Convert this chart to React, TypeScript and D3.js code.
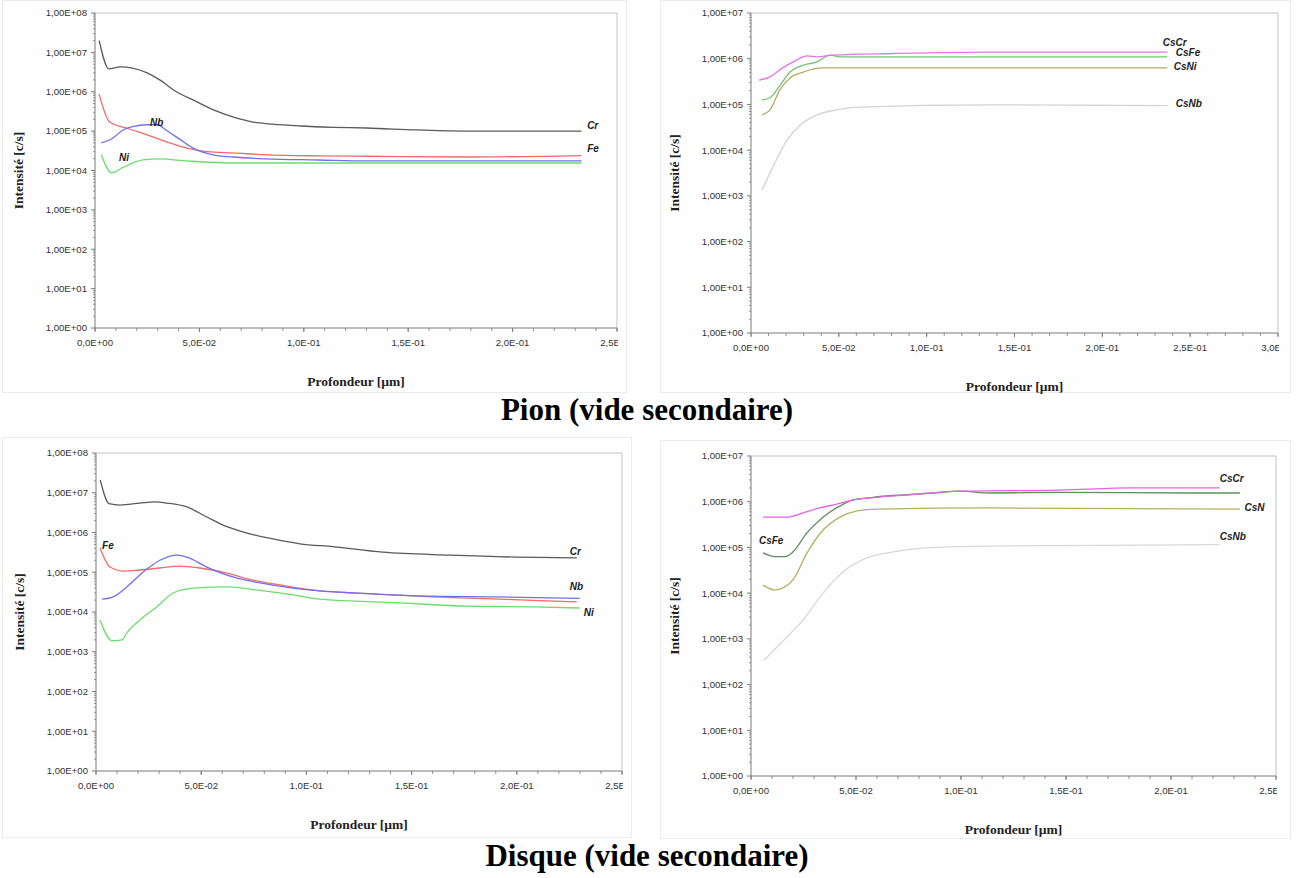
import React from 'react';
import * as d3 from 'd3';

// ---------- DATA ----------
// Top-left: Pion, éléments
const tlCrX = [0.002, 0.0067, 0.012, 0.018, 0.025, 0.031, 0.039, 0.047, 0.0565, 0.066, 0.0757, 0.085, 0.098, 0.114, 0.13, 0.154, 0.178, 0.202, 0.233];
const tlCrY = [2.0e7, 3.8e6, 4.3e6, 4.0e6, 3.0e6, 2.0e6, 1.0e6, 6.2e5, 3.5e5, 2.3e5, 1.7e5, 1.5e5, 1.35e5, 1.25e5, 1.2e5, 1.07e5, 1.0e5, 1.0e5, 1.0e5];
const tlFeX = [0.002, 0.007, 0.015, 0.025, 0.034, 0.044, 0.054, 0.066, 0.082, 0.107, 0.13, 0.178, 0.233];
const tlFeY = [8.7e5, 1.7e5, 1.2e5, 8e4, 5.4e4, 3.7e4, 3.0e4, 2.8e4, 2.5e4, 2.35e4, 2.3e4, 2.2e4, 2.4e4];
const tlNbX = [0.003, 0.0086, 0.0134, 0.018, 0.025, 0.03, 0.034, 0.041, 0.047, 0.0565, 0.066, 0.082, 0.107, 0.13, 0.233];
const tlNbY = [5e4, 6.7e4, 1.07e5, 1.3e5, 1.45e5, 1.45e5, 1.07e5, 6e4, 3.7e4, 2.5e4, 2.2e4, 1.97e4, 1.85e4, 1.75e4, 1.75e4];
const tlNiX = [0.003, 0.008, 0.0134, 0.023, 0.031, 0.044, 0.066, 0.107, 0.233];
const tlNiY = [2.5e4, 8.7e3, 1.2e4, 1.85e4, 1.97e4, 1.75e4, 1.55e4, 1.55e4, 1.55e4];

// Top-right: Pion, Cs clusters
const trCsCrX = [0.0046, 0.0108, 0.018, 0.024, 0.032, 0.0376, 0.0467, 0.081, 0.136, 0.237];
const trCsCrY = [3.4e5, 4e5, 6.3e5, 8.5e5, 1.15e6, 1.1e6, 1.2e6, 1.3e6, 1.4e6, 1.4e6];
const trCsFeX = [0.0063, 0.0108, 0.0165, 0.0222, 0.0296, 0.0376, 0.045, 0.0506, 0.136, 0.237];
const trCsFeY = [1.25e5, 1.4e5, 2.6e5, 5.1e5, 7.2e5, 8.5e5, 1.2e6, 1.1e6, 1.1e6, 1.1e6];
const trCsNiX = [0.0063, 0.0108, 0.0165, 0.0222, 0.0296, 0.041, 0.0506, 0.136, 0.237];
const trCsNiY = [5.9e4, 7.6e4, 2.1e5, 3.8e5, 5.1e5, 6.3e5, 6.3e5, 6.3e5, 6.3e5];
const trCsNbX = [0.0063, 0.0125, 0.0205, 0.0279, 0.0376, 0.049, 0.062, 0.136, 0.237];
const trCsNbY = [1.35e3, 4.3e3, 1.66e4, 3.5e4, 5.9e4, 7.6e4, 8.7e4, 9.8e4, 9.4e4];

// Bottom-left: Disque, éléments
const blCrX = [0.002, 0.0062, 0.0114, 0.0209, 0.028, 0.0337, 0.0432, 0.0527, 0.0622, 0.0717, 0.0841, 0.0969, 0.1126, 0.1363, 0.1682, 0.2, 0.2285];
const blCrY = [2.1e7, 5.3e6, 4.9e6, 5.5e6, 5.9e6, 5.5e6, 4.4e6, 2.45e6, 1.4e6, 9.7e5, 6.9e5, 5.2e5, 4.4e5, 3.2e5, 2.7e5, 2.4e5, 2.3e5];
const blFeX = [0.0019, 0.0067, 0.0128, 0.0209, 0.0304, 0.0399, 0.0494, 0.0622, 0.0746, 0.0874, 0.1064, 0.124, 0.16, 0.192, 0.2285];
const blFeY = [4.1e5, 1.35e5, 1.07e5, 1.14e5, 1.28e5, 1.43e5, 1.28e5, 9.5e4, 6.3e4, 4.8e4, 3.4e4, 3e4, 2.4e4, 2.1e4, 1.8e4];
const blNbX = [0.0029, 0.0081, 0.0147, 0.0223, 0.0304, 0.0385, 0.0432, 0.0527, 0.0651, 0.0779, 0.0936, 0.1064, 0.124, 0.16, 0.192, 0.2299];
const blNbY = [2.1e4, 2.4e4, 4.3e4, 1e5, 2.0e5, 2.7e5, 2.4e5, 1.35e5, 7.6e4, 5.4e4, 4e4, 3.4e4, 3e4, 2.5e4, 2.4e4, 2.2e4];
const blNiX = [0.0019, 0.0076, 0.0124, 0.0147, 0.0209, 0.029, 0.0366, 0.0461, 0.0622, 0.0779, 0.0936, 0.1064, 0.1126, 0.1444, 0.1762, 0.2076, 0.2299];
const blNiY = [6.3e3, 1.9e3, 2.0e3, 3e3, 6.3e3, 1.35e4, 3e4, 4e4, 4.3e4, 3.5e4, 2.7e4, 2.1e4, 2e4, 1.7e4, 1.4e4, 1.35e4, 1.26e4];

// Bottom-right: Disque, Cs clusters
const brCsCrX = [0.0057, 0.0171, 0.0248, 0.0328, 0.0409, 0.0486, 0.06, 0.0743, 0.0995, 0.147, 0.182, 0.2232];
const brCsCrY = [4.6e5, 4.6e5, 5.7e5, 7.3e5, 8.9e5, 1.1e6, 1.25e6, 1.4e6, 1.7e6, 1.8e6, 2e6, 2e6];
const brCsFeX = [0.0057, 0.0114, 0.0162, 0.02, 0.0267, 0.0343, 0.0424, 0.0486, 0.0581, 0.0709, 0.0866, 0.0995, 0.1138, 0.147, 0.2104, 0.2328];
const brCsFeY = [7.6e4, 6.3e4, 6.3e4, 8e4, 2.1e5, 4.6e5, 8.1e5, 1.1e6, 1.25e6, 1.4e6, 1.55e6, 1.7e6, 1.55e6, 1.6e6, 1.55e6, 1.55e6];
const brCsNiX = [0.0057, 0.0114, 0.0152, 0.02, 0.0267, 0.0343, 0.0424, 0.0505, 0.06, 0.1138, 0.2328];
const brCsNiY = [1.5e4, 1.17e4, 1.3e4, 1.95e4, 7.6e4, 2.4e5, 4.6e5, 6.3e5, 6.9e5, 7.3e5, 6.9e5];
const brCsNbX = [0.0062, 0.0171, 0.0248, 0.0343, 0.0438, 0.0552, 0.0676, 0.0838, 0.1138, 0.147, 0.2232];
const brCsNbY = [3.4e2, 1.1e3, 2.6e3, 1e4, 2.9e4, 5.9e4, 8e4, 9.8e4, 1.07e5, 1.1e5, 1.15e5];

const titles = ['Pion (vide secondaire)', 'Disque (vide secondaire)'];
const yAxisTitle = 'Intensité [c/s]';
const xAxisTitle = 'Profondeur [µm]';

// ---------- LAYOUT ----------
type Series = { x: number[]; y: number[]; color: string };
type Lbl = { text: string; x: number; y: number };
type PanelCfg = {
  left: number; right: number; top: number; bottom: number;
  xMax: number; yMax: number;
  frame: [number, number, number, number];
  series: Series[]; labels: Lbl[];
};

const panels: PanelCfg[] = [
  {
    left: 95, right: 617, top: 13, bottom: 328, xMax: 0.25, yMax: 1e8,
    frame: [2, 0, 626, 392],
    series: [
      { x: tlCrX, y: tlCrY, color: '#5a5a5a' },
      { x: tlFeX, y: tlFeY, color: '#f06a6a' },
      { x: tlNbX, y: tlNbY, color: '#7070ee' },
      { x: tlNiX, y: tlNiY, color: '#6ade6a' },
    ],
    labels: [
      { text: 'Cr', x: 0.2357, y: 1.35e5 },
      { text: 'Fe', x: 0.2357, y: 3.7e4 },
      { text: 'Nb', x: 0.0263, y: 1.7e5 },
      { text: 'Ni', x: 0.0115, y: 2.2e4 },
    ],
  },
  {
    left: 751, right: 1278, top: 13, bottom: 333, xMax: 0.3, yMax: 1e7,
    frame: [660, 0, 1290, 392],
    series: [
      { x: trCsNbX, y: trCsNbY, color: '#d4d4d4' },
      { x: trCsNiX, y: trCsNiY, color: '#b4aa66' },
      { x: trCsFeX, y: trCsFeY, color: '#74c274' },
      { x: trCsCrX, y: trCsCrY, color: '#e874e8' },
    ],
    labels: [
      { text: 'CsCr', x: 0.2344, y: 2.3e6 },
      { text: 'CsFe', x: 0.2418, y: 1.4e6 },
      { text: 'CsNi', x: 0.2407, y: 6.9e5 },
      { text: 'CsNb', x: 0.2418, y: 1.07e5 },
    ],
  },
  {
    left: 96, right: 622, top: 453, bottom: 771, xMax: 0.25, yMax: 1e8,
    frame: [2, 437, 631, 837],
    series: [
      { x: blCrX, y: blCrY, color: '#5a5a5a' },
      { x: blNiX, y: blNiY, color: '#6ade6a' },
      { x: blFeX, y: blFeY, color: '#f06a6a' },
      { x: blNbX, y: blNbY, color: '#7070ee' },
    ],
    labels: [
      { text: 'Fe', x: 0.0029, y: 4.6e5 },
      { text: 'Cr', x: 0.2252, y: 3.4e5 },
      { text: 'Nb', x: 0.2252, y: 4.3e4 },
      { text: 'Ni', x: 0.2318, y: 1.0e4 },
    ],
  },
  {
    left: 751, right: 1276, top: 456, bottom: 776, xMax: 0.25, yMax: 1e7,
    frame: [660, 440, 1290, 838],
    series: [
      { x: brCsNbX, y: brCsNbY, color: '#d8d8d8' },
      { x: brCsNiX, y: brCsNiY, color: '#b4b064' },
      { x: brCsFeX, y: brCsFeY, color: '#5e905e' },
      { x: brCsCrX, y: brCsCrY, color: '#e464e4' },
    ],
    labels: [
      { text: 'CsCr', x: 0.2232, y: 3.2e6 },
      { text: 'CsN', x: 0.235, y: 7.3e5 },
      { text: 'CsNb', x: 0.2232, y: 1.7e5 },
      { text: 'CsFe', x: 0.0038, y: 1.4e5 },
    ],
  },
];

const sans = "'Liberation Sans', Arial, sans-serif";
const serif = "'Liberation Serif', 'Times New Roman', serif";

function fmtY(v: number) {
  const e = Math.round(Math.log10(v));
  return `1,00E+${String(e).padStart(2, '0')}`;
}
function fmtX(v: number) {
  if (v === 0) return '0,0E+00';
  const e = Math.floor(Math.log10(v) + 1e-9);
  const m = v / Math.pow(10, e);
  return `${m.toFixed(1).replace('.', ',')}E-${String(-e).padStart(2, '0')}`;
}

function Panel({ cfg, idx }: { cfg: PanelCfg; idx: number }) {
  const x = d3.scaleLinear().domain([0, cfg.xMax]).range([cfg.left, cfg.right]);
  const y = d3.scaleLog().domain([1, cfg.yMax]).range([cfg.bottom, cfg.top]);
  const line = d3
    .line<[number, number]>()
    .x((d) => x(d[0]))
    .y((d) => y(d[1]))
    .curve(d3.curveMonotoneX);
  const nDec = Math.round(Math.log10(cfg.yMax));
  const majors = d3.range(0, nDec + 1).map((e) => Math.pow(10, e));
  const minors: number[] = [];
  for (let e = 0; e < nDec; e++) for (let k = 2; k <= 9; k++) minors.push(k * Math.pow(10, e));
  const xMajor = d3.range(0, Math.round(cfg.xMax / 0.05) + 1).map((i) => i * 0.05);
  const xMinor = d3.range(0, Math.round(cfg.xMax / 0.01) + 1).map((i) => i * 0.01);
  const axisColor = '#7a7a7a';
  const clipId = `clip-${idx}`;
  const midY = (cfg.top + cfg.bottom) / 2;
  const midX = (cfg.left + cfg.right) / 2;
  const yTitleX = cfg.left - 77;
  const [fx0, fy0, fx1, fy1] = cfg.frame;
  return (
    <g>
      <defs>
        <clipPath id={clipId}>
          <rect x={cfg.left - 60} y={cfg.top - 10} width={cfg.right - cfg.left + 61} height={cfg.bottom - cfg.top + 40} />
        </clipPath>
      </defs>
      <rect x={fx0 + 0.5} y={fy0 + 0.5} width={fx1 - fx0} height={fy1 - fy0} fill="#fefefe" stroke="#ececec" strokeWidth={1} />
      {/* plot frame */}
      <line x1={cfg.left} x2={cfg.right} y1={cfg.top} y2={cfg.top} stroke="#c4c4c4" strokeWidth={1} />
      <line x1={cfg.right} x2={cfg.right} y1={cfg.top} y2={cfg.bottom} stroke="#c4c4c4" strokeWidth={1} />
      {/* y axis */}
      <line x1={cfg.left} x2={cfg.left} y1={cfg.top} y2={cfg.bottom} stroke={axisColor} strokeWidth={1} />
      {minors.map((m, i) => (
        <line key={'ym' + i} x1={cfg.left - 2} x2={cfg.left} y1={y(m)} y2={y(m)} stroke={axisColor} strokeWidth={0.8} />
      ))}
      {majors.map((m, i) => (
        <g key={'yM' + i}>
          <line x1={cfg.left - 4} x2={cfg.left} y1={y(m)} y2={y(m)} stroke={axisColor} strokeWidth={1} />
          <text x={cfg.left - 8} y={y(m)} dy="0.35em" textAnchor="end" fontFamily={sans} fontSize={9.6} fill="#333">
            {fmtY(m)}
          </text>
        </g>
      ))}
      {/* x axis */}
      <line x1={cfg.left} x2={cfg.right} y1={cfg.bottom} y2={cfg.bottom} stroke={axisColor} strokeWidth={1} />
      {xMinor.map((v, i) => (
        <line key={'xm' + i} x1={x(v)} x2={x(v)} y1={cfg.bottom} y2={cfg.bottom + 3} stroke={axisColor} strokeWidth={0.8} />
      ))}
      <g clipPath={`url(#${clipId})`}>
        {xMajor.map((v, i) => (
          <g key={'xM' + i}>
            <line x1={x(v)} x2={x(v)} y1={cfg.bottom} y2={cfg.bottom + 4} stroke={axisColor} strokeWidth={1} />
            <text x={x(v)} y={cfg.bottom + 15} dy="0.35em" textAnchor="middle" fontFamily={sans} fontSize={9.6} fill="#333">
              {fmtX(v)}
            </text>
          </g>
        ))}
      </g>
      {/* series */}
      {cfg.series.map((s, i) => (
        <path
          key={'s' + i}
          d={line(s.x.map((xv, j) => [xv, s.y[j]] as [number, number])) || ''}
          fill="none"
          stroke={s.color}
          strokeWidth={1.3}
        />
      ))}
      {cfg.labels.map((l, i) => (
        <text key={'l' + i} x={x(l.x)} y={y(l.y)} dy="0.35em" fontFamily={sans} fontSize={10} fontWeight="bold" fontStyle="italic" fill="#222">
          {l.text}
        </text>
      ))}
      {/* axis titles */}
      <text
        transform={`translate(${yTitleX},${midY}) rotate(-90)`}
        textAnchor="middle"
        dy="0.35em"
        fontFamily={serif}
        fontWeight="bold"
        fontSize={13.5}
        fill="#222"
      >
        {yAxisTitle}
      </text>
      <text x={midX} y={cfg.bottom + 53} dy="0.35em" textAnchor="middle" fontFamily={serif} fontWeight="bold" fontSize={13.5} fill="#222">
        {xAxisTitle}
      </text>
    </g>
  );
}

export default function App() {
  return (
    <svg
      width={1296}
      height={878}
      viewBox="0 0 1296 878"
      style={{ position: 'absolute', left: 0, top: 0, background: '#fff' }}
    >
      <rect x={0} y={0} width={1296} height={878} fill="#fff" />
      {panels.map((p, i) => (
        <Panel key={i} cfg={p} idx={i} />
      ))}
      <text x={647} y={420} textAnchor="middle" fontFamily={serif} fontWeight="bold" fontSize={31} fill="#000">
        {titles[0]}
      </text>
      <text x={647} y={866} textAnchor="middle" fontFamily={serif} fontWeight="bold" fontSize={31} fill="#000">
        {titles[1]}
      </text>
    </svg>
  );
}
